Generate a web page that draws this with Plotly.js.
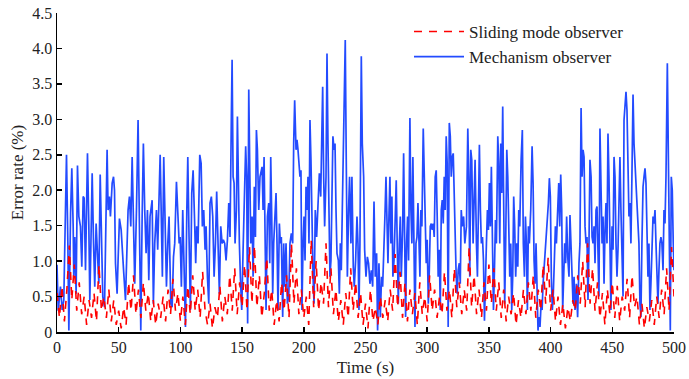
<!DOCTYPE html>
<html>
<head>
<meta charset="utf-8">
<script src="https://cdn.plot.ly/plotly-3.0.1.min.js"></script>
<style>
html,body{margin:0;padding:0;background:#fff;}
#chart{width:689px;height:379px;}
</style>
</head>
<body>
<div id="chart"></div>
<script>
// ---- data ----
const seriesNames = ["Sliding mode observer", "Mechanism observer"];

const blueTime = [
0,1,2.8,4.2,5.5,6.9,7.7,8.8,9.6,11.0,12.0,13.1,13.6,14.4,15.5,16.6,17.7,19.0,20.1,21.2,22.0,23.1,24.7,25.8,26.6,27.4,28.5,29.6,30.6,31.7,32.8,33.9,35.0,36.0,37.1,38.5,39.3,40.6,41.4,42.5,43.3,44.7,45.8,46.6,47.4,48.7,49.5,50.6,52.0,52.8,54.1,55.5,56.5,57.6,58.7,59.8,60.9,62.0,63.0,64.4,65.7,66.8,67.9,69.0,70.0,71.1,72.2,73.3,74.4,75.4,77.1,78.1,79.2,80.6,81.6,
83.6,84.6,85.4,86.5,87.6,88.7,89.8,90.8,92.2,93.3,94.4,95.4,96.8,97.9,99.0,99.8,100.8,101.9,103.0,104.1,105.2,106.0,107.0,108.1,109.2,110.3,111.4,112.4,113.2,114.3,115.7,116.8,117.8,118.9,120.0,120.8,121.9,123.0,124.0,125.1,126.2,127.3,128.4,129.4,130.5,131.6,132.7,133.8,134.8,135.9,137.0,138.1,139.2,140.2,141.3,141.9,142.7,143.5,144.3,145.4,146.2,147.0,147.8,148.6,149.7,150.8,151.8,152.9,153.7,154.5,155.4,156.2,157.0,158.1,158.9,159.9,160.8,161.6,162.4,163.5,164.5,
166.2,167.0,167.8,168.6,169.4,170.5,171.6,172.4,173.2,174.0,174.8,175.6,176.7,177.5,178.3,179.1,180.2,181.0,181.8,182.9,183.7,184.5,185.6,186.7,187.8,188.8,189.9,191.0,191.8,192.6,193.7,194.5,195.3,196.1,196.9,197.7,198.5,199.4,200.2,201.0,201.8,202.6,203.4,204.2,205.0,205.8,206.6,207.5,208.3,209.3,210.4,211.5,212.6,213.7,214.5,215.3,216.1,216.9,218.0,218.8,219.6,220.4,221.2,222.0,222.8,223.6,224.5,225.3,226.1,226.9,228.0,228.8,229.6,230.4,231.2,232.0,232.8,233.6,234.4,235.3,236.3,237.1,238.2,239.0,240.1,240.9,242.0,243.1,243.9,244.7,245.5,246.6,247.4,
248.5,249.3,250.4,251.5,252.5,253.6,254.7,255.8,256.9,257.9,259.0,259.8,260.9,262.0,263.0,263.9,265.0,265.8,266.6,267.4,268.2,269.0,269.8,270.6,271.4,272.2,273.1,273.9,274.9,275.7,276.6,277.4,278.2,279.0,280.1,280.9,281.7,282.5,283.3,284.1,284.9,286.0,286.8,287.6,288.4,289.2,290.1,290.9,291.7,292.5,293.3,294.1,294.9,295.7,296.8,297.6,298.4,299.2,300.0,300.9,301.7,302.5,303.3,304.1,304.9,305.7,306.5,307.3,308.1,308.9,309.8,310.6,311.4,312.2,313.0,313.8,314.6,315.4,316.2,317.0,317.9,318.7,319.5,320.3,321.1,321.9,322.7,323.5,324.3,325.1,326.0,326.8,327.6,328.4,329.5,
330.5,331.8,332.9,333.7,334.5,335.3,336.1,337.2,338.0,338.8,339.9,340.7,341.5,342.3,343.1,343.9,344.8,345.6,346.4,347.2,348.0,348.8,349.6,350.4,351.2,352.0,352.9,353.7,354.5,355.3,356.1,357.2,358.0,358.8,359.6,360.4,361.2,362.0,362.8,363.6,364.5,365.3,366.1,366.9,367.7,368.5,369.3,370.1,370.9,371.7,372.6,373.4,374.2,375.0,376.1,377.1,377.9,378.8,379.6,380.4,381.2,382.0,382.8,383.9,385.0,385.8,386.6,387.4,388.2,389.0,389.8,390.6,391.4,392.3,393.1,393.9,395.0,396.0,397.1,398.2,399.0,399.8,400.6,401.4,402.2,403.0,403.9,404.7,405.8,406.6,407.4,408.2,409.0,409.8,410.6,411.4,412.2,413.0,
413.9,414.9,415.7,416.6,417.4,418.2,419.0,419.8,420.9,421.9,423.0,423.8,424.7,425.5,426.3,427.1,427.9,428.7,429.5,430.3,431.1,431.9,432.8,433.6,434.4,435.2,436.0,436.8,437.6,438.4,439.2,440.0,440.8,441.7,442.5,443.3,444.1,444.9,445.7,446.5,447.3,448.1,448.9,449.8,450.6,451.4,452.2,453.0,453.8,454.6,455.4,456.2,457.0,457.9,458.7,459.5,460.3,461.1,461.9,462.7,463.5,464.3,465.1,465.9,466.8,467.6,468.4,469.2,470.0,470.8,471.6,472.4,473.2,474.0,474.9,475.7,476.5,477.3,478.1,478.9,479.7,480.5,481.3,482.1,483.0,483.8,484.6,485.4,486.2,487.0,487.8,488.6,489.4,490.2,491.1,491.9,492.7,493.5,494.6,495.4,496.2,497.0,497.8,498.6,499.4,500.0
];
const blueError = [
0.95,0.3,0.64,0.31,0.45,1.96,2.50,1.25,0.02,1.67,2.31,1.49,0.78,1.34,0.54,2.35,1.63,1.49,0.92,1.91,1.89,0.87,2.52,1.49,0.45,1.16,2.24,1.25,0.64,1.53,1.01,0.68,2.22,1.25,0.50,0.35,1.25,2.57,1.72,1.91,1.63,2.10,2.19,2.00,0.97,0.54,1.01,1.60,1.44,1.25,0.83,0.45,1.25,1.72,1.91,1.49,2.47,1.25,0.68,1.72,2.99,1.49,0.02,1.63,2.66,1.72,1.11,1.72,0.73,1.63,1.86,0.40,1.25,1.72,1.16,
2.50,1.25,0.78,2.47,1.49,0.64,1.25,1.63,0.40,0.35,1.06,1.25,2.12,1.72,1.25,1.34,0.64,1.72,0.78,0.07,1.72,2.47,1.34,0.31,1.96,2.28,1.63,0.97,1.49,1.25,2.50,2.38,1.49,1.72,1.16,1.49,0.78,0.40,1.82,1.91,1.63,0.78,1.25,1.98,1.25,0.54,1.49,1.25,1.30,1.25,1.01,1.30,1.82,1.34,3.04,3.84,2.19,2.10,1.25,1.72,3.04,1.72,1.25,0.78,0.31,1.16,1.72,2.62,2.19,0.12,3.42,2.19,1.25,1.63,0.78,2.05,1.34,2.85,2.57,1.72,2.19,
2.33,1.72,2.47,1.25,0.31,1.63,1.82,0.97,2.47,1.63,0.54,1.25,1.63,1.96,1.25,0.31,1.53,1.25,1.34,0.21,1.25,0.64,1.25,0.40,0.50,1.25,1.39,1.25,2.66,3.27,2.57,2.71,2.57,2.33,2.19,2.28,0.31,1.25,1.63,1.01,2.05,1.72,2.19,1.25,2.99,2.43,1.25,0.78,0.40,1.72,1.34,1.91,2.24,1.91,2.99,3.46,2.19,1.49,2.19,3.93,2.66,1.49,0.78,1.01,1.72,2.76,2.57,2.66,1.72,1.11,1.01,0.54,1.25,0.87,1.72,2.43,3.13,4.12,2.43,0.78,1.72,2.19,1.25,2.19,0.92,0.64,1.01,1.63,1.25,0.31,1.25,3.89,2.66,
2.19,1.16,0.78,1.06,0.97,0.68,0.87,0.64,1.84,0.78,1.11,0.02,0.97,0.21,0.78,0.64,1.49,1.67,2.19,1.53,0.97,1.63,2.19,1.25,1.91,0.78,1.01,1.49,2.14,1.25,0.40,1.25,1.63,0.78,1.44,2.52,1.49,0.21,1.25,1.63,1.01,3.02,1.72,1.25,2.47,0.78,0.07,1.25,1.34,1.82,1.25,0.78,1.72,1.49,2.87,2.19,1.25,0.97,1.30,0.40,0.87,1.49,1.53,1.44,1.53,1.34,2.19,2.28,1.63,0.78,1.16,0.31,1.72,1.86,1.53,2.19,1.72,2.76,2.38,0.07,2.95,2.76,2.19,2.47,2.52,1.91,1.25,0.78,0.54,0.87,0.97,0.68,1.72,1.49,1.63,
1.25,1.49,2.87,2.19,0.78,2.57,2.43,1.25,2.19,2.43,1.25,0.78,1.72,2.64,1.72,1.25,1.34,1.01,0.16,0.87,1.25,1.72,1.44,2.10,1.49,2.33,1.34,0.31,0.87,1.58,1.25,2.76,2.38,1.25,2.66,1.96,3.18,1.25,0.40,1.25,2.57,2.19,1.25,0.78,1.25,0.31,0.78,1.91,1.49,0.78,1.25,0.92,1.72,1.49,2.43,2.85,1.25,0.78,1.63,1.25,0.31,1.49,1.25,1.72,2.62,2.10,1.01,0.68,1.25,0.31,0.02,0.21,0.07,0.40,0.31,0.68,0.97,1.25,1.49,1.82,2.17,1.91,0.78,0.31,0.54,1.01,1.49,1.25,1.91,2.10,1.49,2.22,1.72,0.31,0.78,1.25,0.97,1.63,
1.06,0.78,1.65,1.25,0.78,0.40,0.78,0.31,0.68,0.21,0.97,1.25,3.16,2.19,2.57,2.47,1.49,1.25,1.34,0.45,1.25,2.43,2.19,1.34,1.25,1.49,0.97,1.72,1.77,1.25,0.50,2.87,2.19,1.25,1.63,0.68,1.44,1.82,1.25,2.80,2.19,0.78,0.31,1.49,1.16,2.47,2.19,1.25,0.78,1.16,2.19,2.47,1.72,0.78,0.50,2.99,3.23,3.39,3.13,2.19,1.63,1.82,1.25,2.19,3.35,2.66,2.38,1.96,1.63,1.34,1.25,0.40,0.21,1.25,2.05,2.19,2.31,2.10,1.25,0.78,1.25,0.31,0.68,1.25,1.63,1.53,1.72,1.25,0.78,0.40,0.87,1.25,1.34,1.25,0.87,1.72,1.53,2.19,3.79,2.66,1.25,0.02,2.19,2.00,1.25,0.87
];

// sliding mode observer, one reading every 2 s from 0 s to 500 s
const redStep = 2;
const redError = [
0.55,0.20,0.65,0.15,0.60, 1.22,0.45,0.95,0.30,0.70, 0.25,0.50,0.10,0.45,0.20, 0.55,0.15,0.95,0.30,0.50,
0.20,0.60,0.15,0.45,0.10, 0.30,0.05,0.35,0.10,0.70, 0.30,0.80,0.25,0.60,0.20, 0.70,0.30,0.55,0.15,0.45,
0.10,0.40,0.20,0.50,0.15, 0.60,0.25,0.75,0.30,0.55, 0.15,0.50,0.10,0.65,0.25, 0.80,0.30,0.60,0.20,0.85,
0.30,0.10,0.40,0.05,0.35, 0.20,0.65,0.15,0.50,0.25, 0.80,0.30,0.90,0.25,0.70, 0.35,0.95,0.30,1.20,0.40,
1.22,0.35,0.80,0.20,0.55, 1.05,0.30,0.60,0.10,0.45, 0.15,0.70,0.30,0.80,0.20, 1.25,0.40,0.90,0.25,0.60,
0.20,0.50,0.10,1.30,0.35, 1.00,0.30,0.70,0.40,1.25, 0.35,0.90,0.25,0.60,0.15, 0.45,0.10,0.55,0.20,0.90,
0.30,0.70,0.20,0.55,0.10, 0.40,0.05,0.60,0.15,0.35, 0.10,0.50,0.20,0.45,0.15, 0.60,0.30,1.10,0.35,0.85,
0.20,0.70,0.15,0.60,0.25, 0.55,0.10,0.70,0.25,0.50, 0.15,0.80,0.30,0.60,0.20, 0.50,0.25,0.85,0.30,0.60,
0.20,0.90,0.35,0.70,0.25, 0.60,0.30,1.20,0.35,0.80, 0.25,0.60,0.20,0.70,0.30, 0.95,0.40,0.90,0.30,0.70,
0.20,0.60,0.15,0.50,0.25, 0.55,0.10,0.45,0.20,0.60, 0.25,0.70,0.30,0.80,0.20, 0.60,0.30,0.95,0.40,1.05,
0.30,0.60,0.15,0.50,0.10, 0.40,0.05,0.35,0.15,0.45, 0.30,0.80,0.40,1.00,0.35, 1.25,0.40,0.90,0.30,0.70,
0.20,0.55,0.10,0.60,0.25, 0.70,0.20,0.65,0.15,0.50, 0.30,0.75,0.20,0.80,0.35, 0.50,0.10,0.40,0.05,0.35,
0.15,0.45,0.10,0.50,0.20, 0.60,0.25,0.90,0.30,1.20, 0.50
];
const redTime = redError.map((_, i) => i * redStep);

const xTickVals = [0,50,100,150,200,250,300,350,400,450,500];
const yTickVals = [0,0.5,1.0,1.5,2.0,2.5,3.0,3.5,4.0,4.5];
const yTickText = ["0","0.5","1.0","1.5","2.0","2.5","3.0","3.5","4.0","4.5"];
const xTitle = "Time (s)";
const yTitle = "Error rate (%)";

// ---- chart ----
const serif = "Liberation Serif, Times New Roman, serif";
const traces = [
  {
    x: blueTime, y: blueError, name: seriesNames[1], type: "scatter", mode: "lines",
    line: {color: "rgb(35,75,255)", width: 1.7}
  },
  {
    x: redTime, y: redError, name: seriesNames[0], type: "scatter", mode: "lines",
    line: {color: "rgb(255,0,0)", width: 1.6, dash: "8px,7px"}
  }
];

const axisCommon = {
  showgrid: false, zeroline: false, showline: true, linecolor: "#000", linewidth: 1.5,
  ticks: "inside", ticklen: 5, tickwidth: 1.5, tickcolor: "#000",
  tickfont: {family: serif, size: 16, color: "#222"}
};

const layout = {
  width: 689, height: 379,
  margin: {l: 57, r: 15, t: 13, b: 47},
  paper_bgcolor: "#fff", plot_bgcolor: "#fff",
  font: {family: serif, color: "#222"},
  showlegend: true,
  legend: {
    x: 0.5705, y: 0.997, xanchor: "left", yanchor: "top",
    traceorder: "reversed", itemwidth: 50,
    bgcolor: "rgba(0,0,0,0)", borderwidth: 0,
    font: {family: serif, size: 17, color: "#222"}
  },
  xaxis: Object.assign({}, axisCommon, {
    range: [0, 500], tickvals: xTickVals,
    title: {text: xTitle, font: {family: serif, size: 17, color: "#222"}, standoff: 6}
  }),
  yaxis: Object.assign({}, axisCommon, {
    range: [0, 4.5], tickvals: yTickVals, ticktext: yTickText,
    title: {text: yTitle, font: {family: serif, size: 17, color: "#222"}, standoff: 4}
  })
};

Plotly.newPlot("chart", traces, layout, {displayModeBar: false, staticPlot: true});
</script>
</body>
</html>
